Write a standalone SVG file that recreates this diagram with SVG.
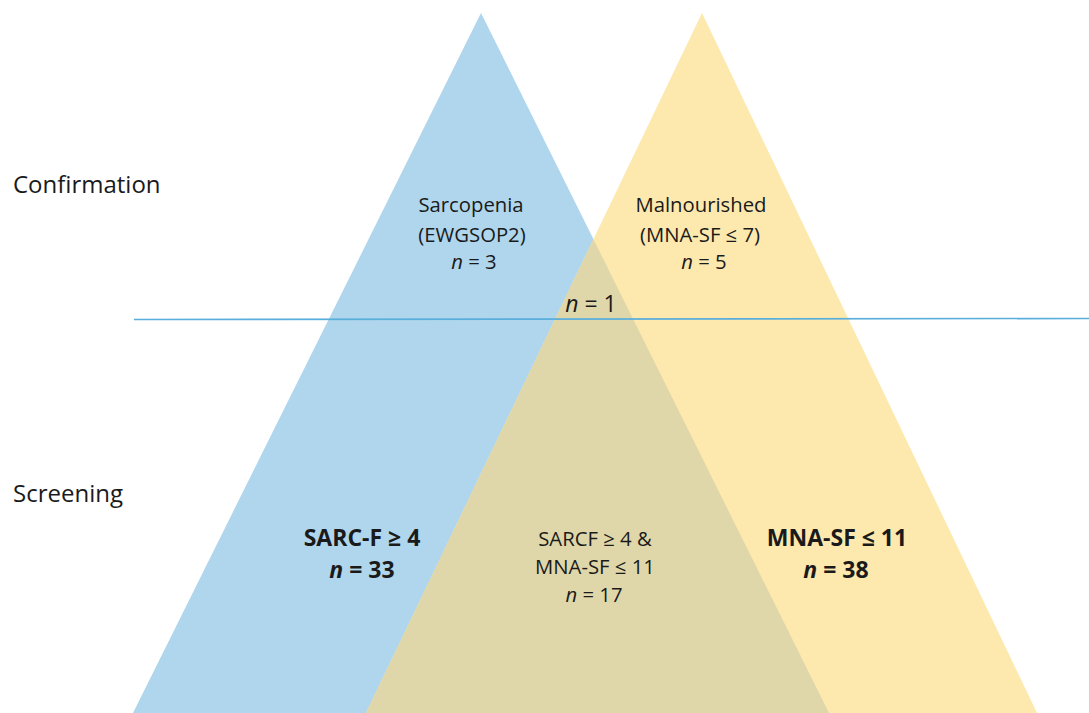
<svg xmlns="http://www.w3.org/2000/svg" width="1089" height="713" viewBox="0 0 1089 713">
<style>
text{font-family:"Open Sans","Liberation Sans",sans-serif;fill:#1a1a1a}
.lab{font-size:24px}
.t{font-size:20.3px;text-anchor:middle}
.b{font-size:23px;font-weight:bold;text-anchor:middle}
.m{font-size:23px;text-anchor:middle}
</style>
<rect width="1089" height="713" fill="#ffffff"/>
<g id="sarcf">
<polygon points="481,13 829,713 133,713" fill="#AFD6EC"/>
</g>
<g id="mnasf">
<polygon points="702,13 1037,713 366,713" fill="#FDE8AE"/>
</g>
<g id="overlap">
<polygon points="593.4,239.2 829,713 366,713" fill="#DFD7A9"/>
</g>
<g id="connectors">
<line x1="134" y1="319.5" x2="1089" y2="318.5" stroke="#5AAEDC" stroke-width="1.6"/>
</g>
<g id="labels">
<text class="lab" x="13" y="193">Confirmation</text>
<text class="lab" x="13" y="502">Screening</text>
</g>
<g id="sarcopenia">
<text class="t" x="471" y="212">Sarcopenia</text>
<text class="t" x="472" y="242">(EWGSOP2)</text>
<text class="t" x="474" y="269"><tspan font-style="italic">n</tspan> = 3</text>
</g>
<g id="malnourished">
<text class="t" x="701" y="212">Malnourished</text>
<text class="t" x="700" y="242">(MNA-SF ≤ 7)</text>
<text class="t" x="704" y="269"><tspan font-style="italic">n</tspan> = 5</text>
</g>
<g id="both-confirmed">
<text class="m" x="591" y="312"><tspan font-style="italic">n</tspan> = 1</text>
</g>
<g id="sarcf-label">
<text class="b" x="362" y="546">SARC-F ≥ 4</text>
<text class="b" x="362" y="578"><tspan font-style="italic">n</tspan> = 33</text>
</g>
<g id="both-screened">
<text class="t" x="595" y="546">SARCF ≥ 4 &amp;</text>
<text class="t" x="595" y="574">MNA-SF ≤ 11</text>
<text class="t" x="594" y="602"><tspan font-style="italic">n</tspan> = 17</text>
</g>
<g id="mnasf-label">
<text class="b" x="837" y="546">MNA-SF ≤ 11</text>
<text class="b" x="836" y="578"><tspan font-style="italic">n</tspan> = 38</text>
</g>
</svg>
